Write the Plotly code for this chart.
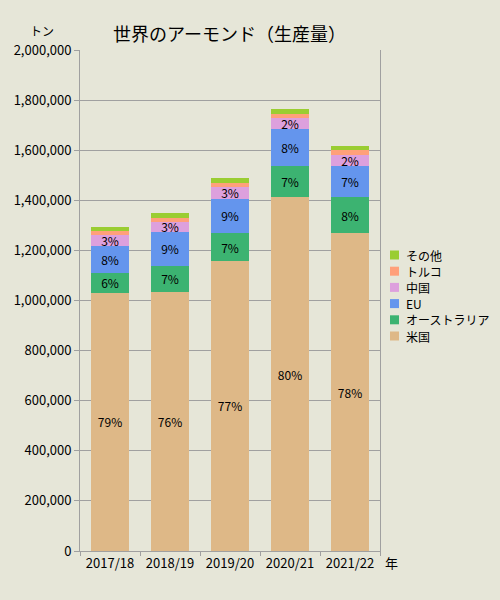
import math
import plotly.graph_objects as go

years = ["2017/18", "2018/19", "2019/20", "2020/21", "2021/22"]
us = [1030000, 1035000, 1158000, 1413000, 1269000]
australia = [80000, 104000, 111000, 124000, 144000]
eu = [107000, 134000, 138000, 147000, 124000]
china = [44000, 41000, 46000, 44000, 44000]
turkey = [16000, 17000, 16000, 16000, 20000]
other = [18000, 18500, 20000, 20000, 16000]

series_names = ["米国", "オーストラリア", "EU", "中国", "トルコ", "その他"]
series_values = [us, australia, eu, china, turkey, other]
show_pct = [True, True, True, True, False, False]
colors = ["#DEB887", "#3CB371", "#6495ED", "#DDA0DD", "#FFA07A", "#9ACD32"]

totals = [sum(v[i] for v in series_values) for i in range(len(years))]

FONT = "Noto Sans CJK JP"
W, H = 500, 600
ML, MR, MT, MB = 80, 120, 50, 49
PW, PH = W - ML - MR, H - MT - MB


def px(x):
    return (x - ML) / PW


def py(y):
    return (H - MB - y) / PH


fig = go.Figure()
for name, vals, show, col in zip(series_names, series_values, show_pct, colors):
    txt = [f"{math.floor(v / t * 100)}%" for v, t in zip(vals, totals)] if show else None
    fig.add_trace(go.Bar(
        x=years, y=vals, name=name, marker=dict(color=col, line=dict(width=0)),
        text=txt, textposition="inside" if show else "none",
        insidetextanchor="middle", textangle=0,
        textfont=dict(family=FONT, size=12, color="black"),
        hoverinfo="x+y+name", showlegend=False,
    ))

# custom legend (top entry = last series)
shapes = []
annotations = []
for i, (name, col) in enumerate(zip(reversed(series_names), reversed(colors))):
    cy = 255 + i * 16.2
    shapes.append(dict(type="rect", xref="paper", yref="paper",
                       x0=px(390), x1=px(399), y0=py(cy - 4.5), y1=py(cy + 4.5),
                       fillcolor=col, line=dict(width=0)))
    annotations.append(dict(text=name, xref="paper", yref="paper",
                            x=px(404), y=py(cy), xanchor="left", yanchor="middle",
                            showarrow=False, font=dict(family=FONT, size=12)))

annotations += [
    dict(text="世界のアーモンド（生産量）", xref="paper", yref="paper",
         x=px(229), y=py(33), xanchor="center", yanchor="middle",
         showarrow=False, font=dict(family=FONT, size=18)),
    dict(text="トン", xref="paper", yref="paper", x=px(42), y=py(30),
         xanchor="center", yanchor="middle", showarrow=False,
         font=dict(family=FONT, size=12)),
    dict(text="年", xref="paper", yref="paper", x=px(383), y=py(562),
         xanchor="left", yanchor="middle", showarrow=False,
         font=dict(family=FONT, size=13)),
]

fig.update_layout(
    width=W, height=H,
    margin=dict(l=ML, r=MR, t=MT, b=MB),
    paper_bgcolor="#E6E6D8", plot_bgcolor="#E6E6D8",
    barmode="stack", bargap=0.383,
    font=dict(family=FONT, size=12, color="black"),
    uniformtext=dict(minsize=12, mode="show"),
    showlegend=False,
    xaxis=dict(
        type="category", showline=True, linecolor="#A0A0A0", linewidth=1,
        ticks="outside", tickson="boundaries", ticklen=4, tickcolor="#A0A0A0",
        tickfont=dict(family=FONT, size=13), showgrid=False,
    ),
    yaxis=dict(
        range=[0, 2000000], dtick=200000, tickformat=",",
        showline=True, mirror=True, linecolor="#A0A0A0", linewidth=1,
        ticks="outside", ticklen=5, tickcolor="#A0A0A0",
        showgrid=True, gridcolor="#A0A0A0", gridwidth=1,
        zeroline=False, tickfont=dict(family=FONT, size=13),
    ),
    shapes=shapes,
    annotations=annotations,
)

fig.write_html("out.html", config={"displayModeBar": False},
               post_script="document.body.style.margin='0';")
